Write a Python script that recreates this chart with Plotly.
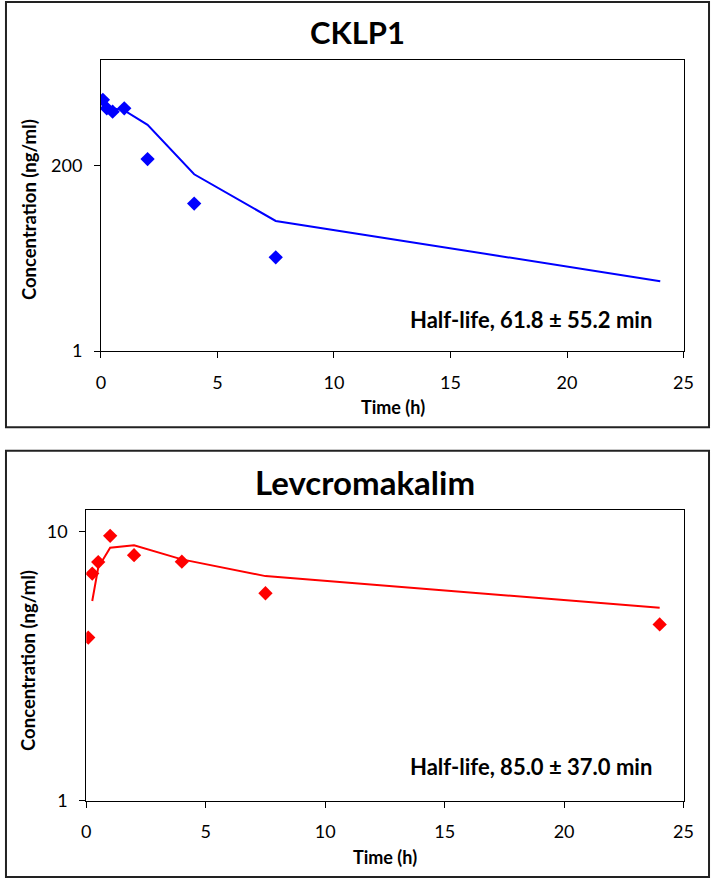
import math
import plotly.graph_objects as go

# ---- data ----
cklp_t = [0.083, 0.25, 0.5, 1, 2, 4, 7.5]
cklp_obs = [1297, 1017, 925, 1017, 239, 67.2, 14.5]
cklp_fit_t = [0.083, 0.25, 0.5, 1, 2, 4, 7.5, 24]
cklp_fit = [1150, 1080, 1020, 960, 635, 155, 40.9, 7.33]

lev_t = [0.083, 0.25, 0.5, 1, 2, 4, 7.5, 24]
lev_obs = [4.04, 6.98, 7.7, 9.64, 8.17, 7.73, 5.9, 4.52]
lev_fit_t = [0.25, 0.5, 1, 2, 4, 7.5, 24]
lev_fit = [5.52, 7.35, 8.7, 8.89, 7.88, 6.83, 5.21]

x_ticks = [0, 5, 10, 15, 20, 25]
top_yticks = [1, 200]
bot_yticks = [1, 10]

W, H = 720, 888
def px(x):
    return x / W
def py(y):
    return (H - y) / H

fig = go.Figure()

fig.add_trace(go.Scatter(x=cklp_fit_t, y=cklp_fit, mode="lines",
                         line=dict(color="#0000FF", width=2), xaxis="x", yaxis="y", showlegend=False))
fig.add_trace(go.Scatter(x=cklp_t, y=cklp_obs, mode="markers",
                         marker=dict(symbol="diamond", size=11, color="#0000FF"), xaxis="x", yaxis="y", showlegend=False))
fig.add_trace(go.Scatter(x=lev_fit_t, y=lev_fit, mode="lines",
                         line=dict(color="#FF0000", width=2), xaxis="x2", yaxis="y2", showlegend=False))
fig.add_trace(go.Scatter(x=lev_t, y=lev_obs, mode="markers",
                         marker=dict(symbol="diamond", size=11, color="#FF0000"), xaxis="x2", yaxis="y2", showlegend=False))

tickfont = dict(family="Lato", size=18, color="#000000")
common_x = dict(range=[0, 25], tickvals=x_ticks, ticks="outside", ticklen=6, tickcolor="#000",
                showline=True, linecolor="#000", linewidth=1, mirror=True, showgrid=False,
                zeroline=False, tickfont=tickfont, ticklabelstandoff=9)
common_y = dict(type="log", ticks="outside", ticklen=6, tickcolor="#000",
                showline=True, linecolor="#000", linewidth=1, mirror=True, showgrid=False,
                zeroline=False, tickfont=tickfont, ticklabelstandoff=8)

fig.update_layout(
    width=W, height=H,
    margin=dict(l=0, r=0, t=0, b=0),
    paper_bgcolor="white", plot_bgcolor="white",
    xaxis=dict(domain=[px(98), px(693)], anchor="y", **common_x),
    yaxis=dict(domain=[py(355), py(61)], anchor="x", range=[0, math.log10(4000)],
               tickvals=top_yticks, ticktext=[str(v) for v in top_yticks], **common_y),
    xaxis2=dict(domain=[px(83), px(693)], anchor="y2", **common_x),
    yaxis2=dict(domain=[py(810), py(516)], anchor="x2", range=[0, math.log10(12)],
                tickvals=bot_yticks, ticktext=[str(v) for v in bot_yticks], **common_y),
)

# outer boxes
fig.add_shape(type="rect", xref="paper", yref="paper", x0=px(1), x1=px(719), y0=py(432), y1=py(2),
              line=dict(color="#222", width=2))
fig.add_shape(type="rect", xref="paper", yref="paper", x0=px(1), x1=px(719), y0=py(887), y1=py(456),
              line=dict(color="#222", width=2))

def ann(text, x, y, size, family="Lato", bold=True, angle=0):
    t = f"<b>{text}</b>" if bold else text
    fig.add_annotation(text=t, x=px(x), y=py(y), xref="paper", yref="paper", showarrow=False,
                       xanchor="center", yanchor="middle", textangle=angle,
                       font=dict(family=family, size=size, color="#000"))

ann("CKLP1", 360, 32, 31)
ann("Levcromakalim", 368, 487, 33)
ann("Time (h)", 396, 412, 18)
ann("Time (h)", 388, 867, 18)
ann("Concentration (ng/ml)", 24, 212, 18.5, angle=-90)
ann("Concentration (ng/ml)", 24, 668, 18.5, angle=-90)
ann("Half-life, 61.8 ± 55.2 min", 537, 323, 22)
ann("Half-life, 85.0 ± 37.0 min", 537, 775, 22)

fig.write_html("out.html", config={"displayModeBar": False},
               post_script="document.body.style.margin='0';document.body.style.overflow='hidden';")
